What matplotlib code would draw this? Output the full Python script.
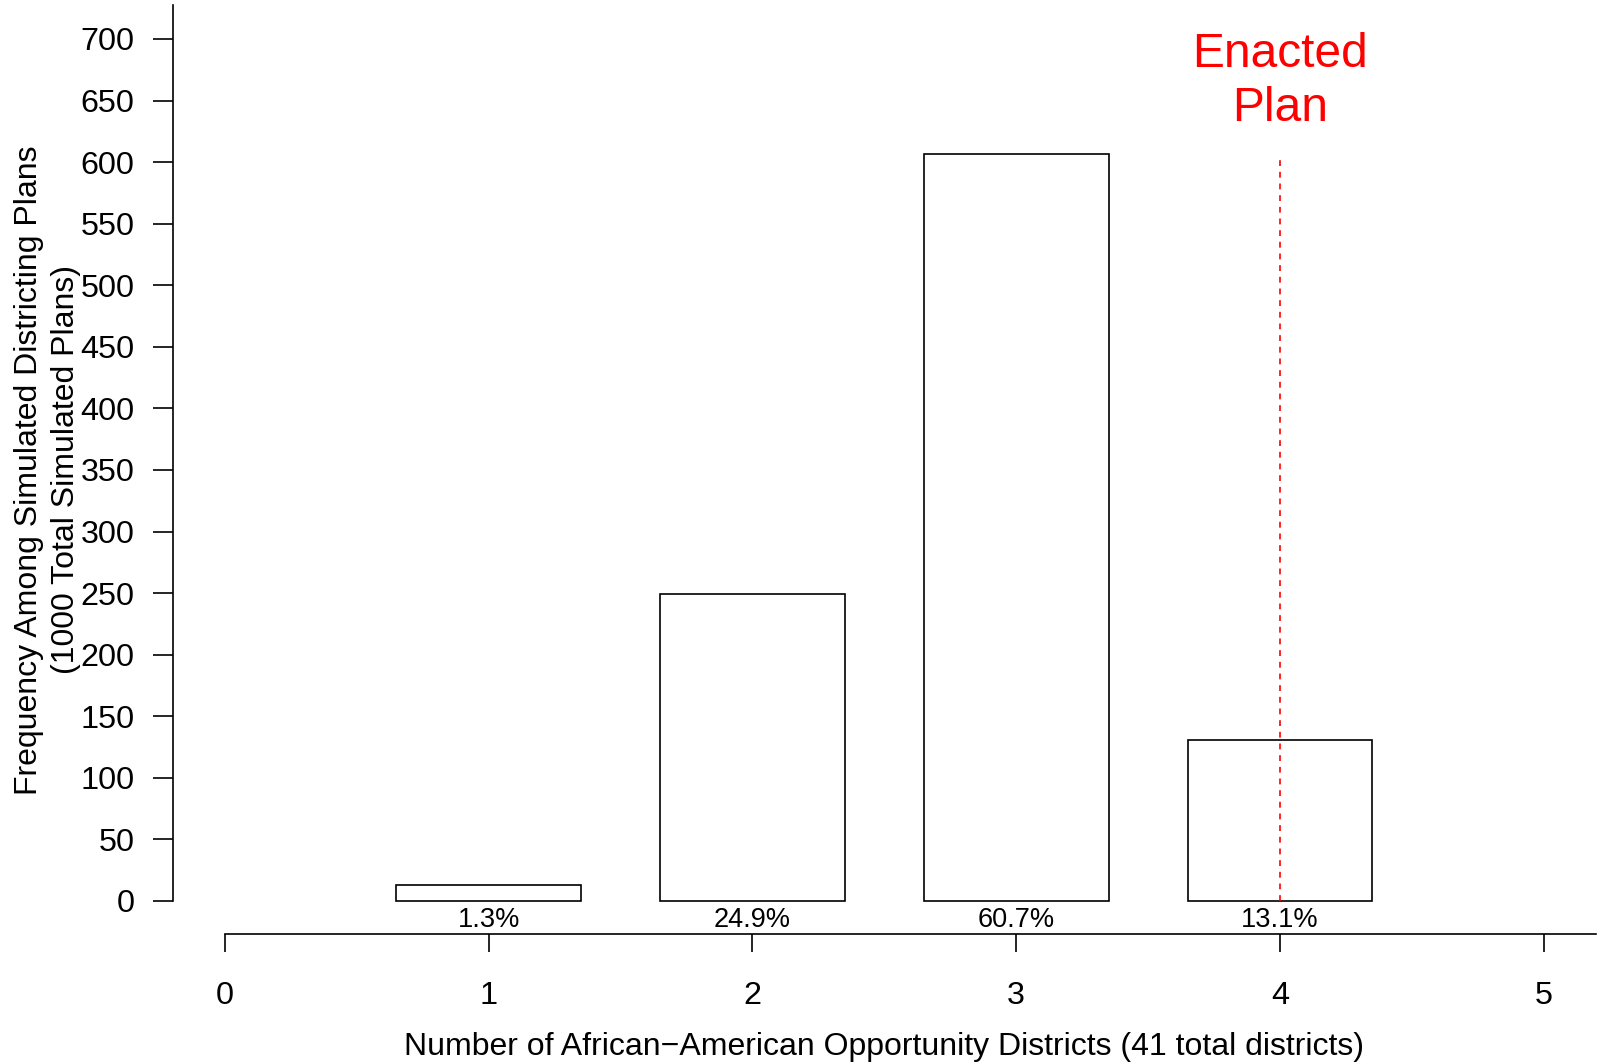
import matplotlib
matplotlib.use("Agg")
import matplotlib.pyplot as plt
import numpy as np

plt.rcParams['font.family'] = ['Liberation Sans', 'DejaVu Sans']

# data
districts = [1, 2, 3, 4]
counts = [13, 249, 607, 131]
pct_labels = ["1.3%", "24.9%", "60.7%", "13.1%"]
x_ticks = [0, 1, 2, 3, 4, 5]
y_ticks = list(range(0, 701, 50))
enacted = 4
enacted_top = 603

W, H = 1602, 1064
fig = plt.figure(figsize=(W / 100, H / 100), dpi=100)

# axes box in pixel terms (y spine at x=172.7, x axis line at y=934 from top)
left_px, right_px = 172.7, 1596
bottom_px, top_px = 934, 5
ax = fig.add_axes([left_px / W, (H - bottom_px) / H,
                   (right_px - left_px) / W, (bottom_px - top_px) / H])
ax.set_xlim(-0.1975, 5.198)
ax.set_ylim(-26.8, 727.6)

ax.bar(districts, counts, width=0.7, color="white", edgecolor="black", linewidth=1.2)
for x, lab in zip(districts, pct_labels):
    ax.text(x, -15.8, lab, ha="center", va="center", fontsize=19.5)

ax.plot([enacted, enacted], [0, enacted_top], color="red", linewidth=1.2,
        linestyle=(0, (3.5, 3.5)))
ax.text(enacted, 665.5, "Enacted\nPlan", color="red", fontsize=34.5, ha="center",
        va="center", linespacing=1.27)

for s in ["top", "right"]:
    ax.spines[s].set_visible(False)
ax.spines["left"].set_bounds(0, 727.6)
ax.spines["bottom"].set_bounds(0, 5.198)
ax.spines["left"].set_linewidth(1.2)
ax.spines["bottom"].set_linewidth(1.2)

ax.set_yticks(y_ticks)
ax.set_xticks(x_ticks)
ax.tick_params(axis="y", direction="out", length=14.4, width=1.2, pad=13, labelsize=23.3)
ax.tick_params(axis="x", direction="out", length=13, width=1.2, pad=20.5, labelsize=23.3)

ax.set_xlabel("Number of African\u2212American Opportunity Districts (41 total districts)",
              fontsize=23, labelpad=15.5)
ax.set_ylabel("Frequency Among Simulated Districting Plans\n(1000 Total Simulated Plans)",
              fontsize=23, linespacing=1.3)
ax.yaxis.set_label_coords(-0.0644, (350 + 26.8) / (727.6 + 26.8))

fig.savefig("out.png", dpi=100)
